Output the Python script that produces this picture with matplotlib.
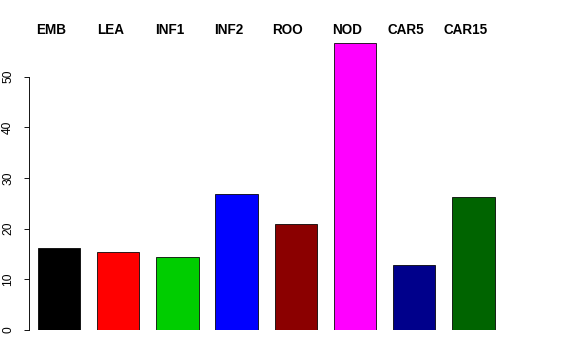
import matplotlib
matplotlib.use('Agg')
import matplotlib.pyplot as plt

labels = ['EMB', 'LEA', 'INF1', 'INF2', 'ROO', 'NOD', 'CAR5', 'CAR15']
values = [16.1, 15.4, 14.5, 26.8, 21.0, 56.7, 12.9, 26.2]
colors = ['#000000', '#FF0000', '#00CD00', '#0000FF', '#8B0000', '#FF00FF', '#00008B', '#006400']
yticks = [0, 10, 20, 30, 40, 50]

plt.rcParams['font.family'] = ['Liberation Sans', 'DejaVu Sans']

W, H = 576, 360
fig = plt.figure(figsize=(W / 72, H / 72), dpi=72)
# axes from x=29px to 576px, y from 330px (top-origin) to 20px
ax = fig.add_axes([29 / W, 30 / H, (W - 29) / W, 310 / H])

step = 1.4
pos = [0.9 + step * i for i in range(len(values))]
ppu = 59.2 / step  # pixels per x unit
x0 = 0.9 - (59 - 29) / ppu
ax.set_xlim(x0, x0 + (W - 29) / ppu)
ax.set_ylim(0, 310 / 5.066)

ax.bar(pos, values, width=1.0, color=colors, edgecolor='black', linewidth=0.8)

for p, lab in zip(pos, labels):
    ax.text(p - 8 / ppu, 300 / 5.066, lab, ha='center', va='center',
            fontsize=13.5, fontweight='bold', clip_on=False)

for s in ['top', 'right', 'bottom']:
    ax.spines[s].set_visible(False)
ax.spines['left'].set_bounds(0, 50)
ax.spines['left'].set_linewidth(0.9)
ax.set_xticks([])
ax.set_yticks(yticks)
ax.set_yticklabels([str(t) for t in yticks], rotation=90, va='center', fontsize=12)
ax.tick_params(axis='y', length=5, width=0.9, pad=10)

fig.savefig('out.png', dpi=72)
